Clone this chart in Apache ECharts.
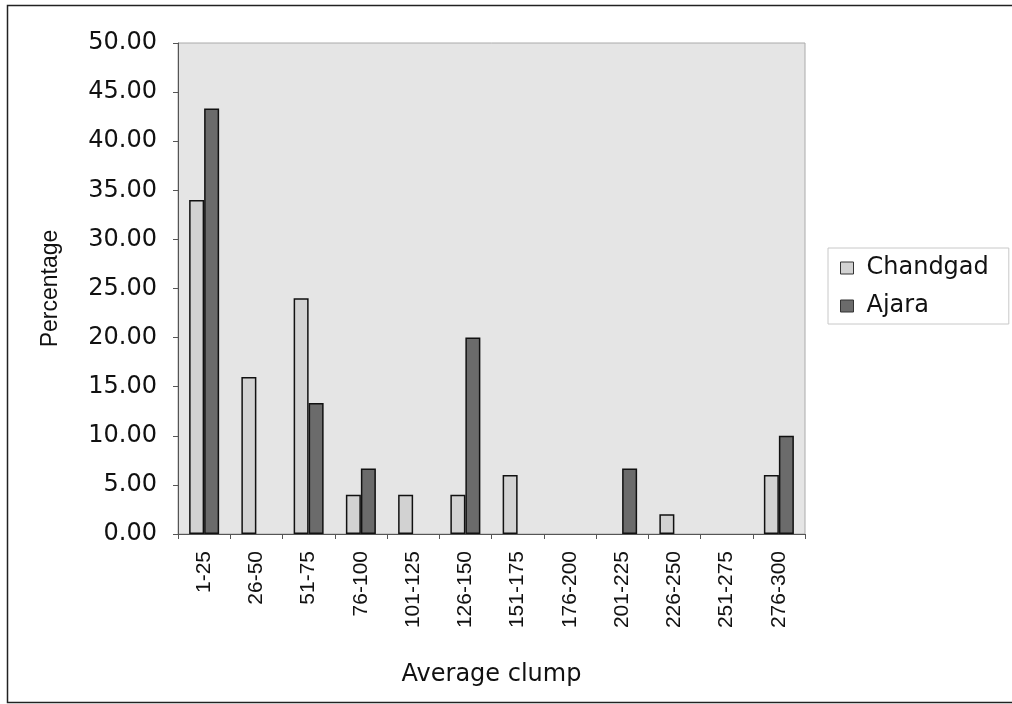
<!DOCTYPE html>
<html>
<head>
<meta charset="utf-8">
<script src="https://cdn.jsdelivr.net/npm/echarts@6/dist/echarts.min.js"></script>
<style>
html,body{margin:0;padding:0;background:#fff;}
#chart{width:1012px;height:704px;}
</style>
</head>
<body>
<div id="chart"></div>
<script>
const categories = ['1-25','26-50','51-75','76-100','101-125','126-150','151-175','176-200','201-225','226-250','251-275','276-300'];
const chandgad = [34.0, 16.0, 24.0, 4.0, 4.0, 4.0, 6.0, null, null, 2.0, null, 6.0];
const ajara = [43.33, null, 13.33, 6.67, null, 20.0, null, null, 6.67, null, null, 10.0];
const seriesNames = ['Chandgad', 'Ajara'];

const wideFont = '"DejaVu Sans", sans-serif';
const font = '"Liberation Sans", Arial, sans-serif';
const chart = echarts.init(document.getElementById('chart'), null, {renderer: 'canvas'});
chart.setOption({
  animation: false,
  backgroundColor: '#ffffff',
  graphic: [{
    type: 'rect',
    shape: {x: 7.5, y: 5.5, width: 1010, height: 697},
    style: {fill: 'none', stroke: '#222', lineWidth: 1.5},
    silent: true
  }],
  grid: {
    left: 178, right: 207, top: 43, bottom: 170,
    show: true, backgroundColor: '#e5e5e5', borderColor: '#aaaaaa', borderWidth: 1
  },
  legend: {
    orient: 'vertical',
    left: 828, top: 248,
    padding: [8, 20, 6, 12],
    backgroundColor: '#ffffff',
    borderColor: '#c8c8c8',
    borderWidth: 1,
    itemWidth: 13, itemHeight: 12, itemGap: 14,
    icon: 'rect',
    itemStyle: {borderColor: '#333', borderWidth: 1},
    textStyle: {fontFamily: wideFont, fontSize: 24, color: '#111', padding: [0, 0, 0, 8]},
    data: seriesNames
  },
  xAxis: {
    type: 'category',
    data: categories,
    name: 'Average clump',
    nameLocation: 'middle',
    nameGap: 129,
    nameTextStyle: {fontFamily: wideFont, fontSize: 24, color: '#111'},
    axisLine: {lineStyle: {color: '#555', width: 1}},
    axisTick: {show: true, alignWithLabel: false, length: 5, lineStyle: {color: '#555'}},
    axisLabel: {rotate: 90, fontFamily: font, fontSize: 21, color: '#111', margin: 17, interval: 0}
  },
  yAxis: {
    type: 'value',
    min: 0, max: 50, interval: 5,
    name: 'Percentage',
    nameLocation: 'middle',
    nameGap: 116,
    nameRotate: 90,
    nameTextStyle: {fontFamily: font, fontSize: 23, color: '#111'},
    axisLine: {show: true, lineStyle: {color: '#555', width: 1}},
    axisTick: {show: true, length: 5, lineStyle: {color: '#555'}},
    splitLine: {show: false},
    axisLabel: {fontFamily: wideFont, fontSize: 24, color: '#111', margin: 21,
      formatter: v => v.toFixed(2)}
  },
  series: [
    {
      name: seriesNames[0], type: 'bar', data: chandgad,
      barWidth: 15, barGap: '0%',
      itemStyle: {color: '#d2d2d2', borderColor: '#111', borderWidth: 1.5}
    },
    {
      name: seriesNames[1], type: 'bar', data: ajara,
      barWidth: 15, barGap: '0%',
      itemStyle: {color: '#6b6b6b', borderColor: '#111', borderWidth: 1.5}
    }
  ]
});
</script>
</body>
</html>
